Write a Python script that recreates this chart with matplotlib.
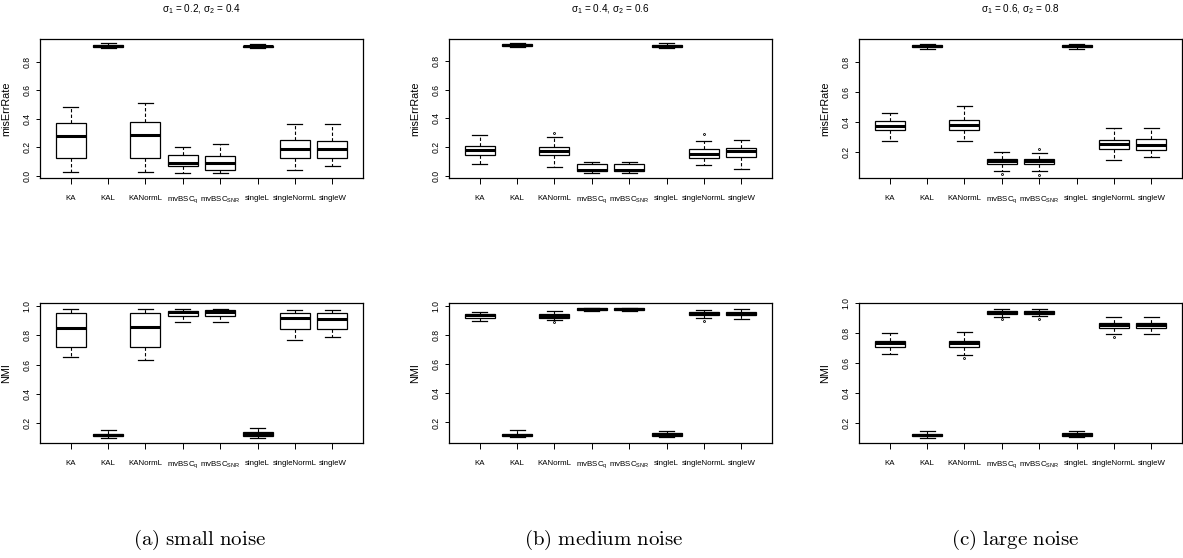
import numpy as np
import matplotlib.pyplot as plt

plt.rcParams['font.family'] = ['Liberation Sans Narrow', 'Liberation Sans', 'DejaVu Sans']

methods = ['KA', 'KAL', 'KANormL', r'mvBSC$_\mathregular{q}$', r'mvBSC$_\mathregular{SNR}$',
           'singleL', 'singleNormL', 'singleW']
titles = [r'σ$_\mathregular{1}$ = 0.2, σ$_\mathregular{2}$ = 0.4',
          r'σ$_\mathregular{1}$ = 0.4, σ$_\mathregular{2}$ = 0.6',
          r'σ$_\mathregular{1}$ = 0.6, σ$_\mathregular{2}$ = 0.8']
captions = ['(a) small noise', '(b) medium noise', '(c) large noise']

# per method: lower whisker, Q1, median, Q3, upper whisker
err_small = [[0.028, 0.122, 0.278, 0.372, 0.484],
             [0.893, 0.903, 0.911, 0.918, 0.928],
             [0.023, 0.124, 0.283, 0.377, 0.508],
             [0.021, 0.065, 0.089, 0.143, 0.204],
             [0.019, 0.037, 0.089, 0.136, 0.220],
             [0.893, 0.900, 0.907, 0.913, 0.922],
             [0.042, 0.124, 0.187, 0.250, 0.365],
             [0.068, 0.124, 0.189, 0.246, 0.365]]
err_small_out = [[], [], [], [], [], [], [], []]

err_medium = [[0.081, 0.147, 0.177, 0.207, 0.284],
              [0.896, 0.903, 0.910, 0.916, 0.925],
              [0.058, 0.142, 0.172, 0.198, 0.272],
              [0.016, 0.030, 0.042, 0.081, 0.098],
              [0.016, 0.030, 0.040, 0.081, 0.098],
              [0.893, 0.900, 0.906, 0.912, 0.922],
              [0.077, 0.123, 0.149, 0.188, 0.240],
              [0.044, 0.128, 0.172, 0.195, 0.251]]
err_medium_out = [[], [], [0.295], [], [], [], [0.290], []]

err_large = [[0.276, 0.350, 0.372, 0.404, 0.462],
             [0.889, 0.902, 0.908, 0.915, 0.923],
             [0.276, 0.346, 0.379, 0.413, 0.504],
             [0.075, 0.119, 0.140, 0.155, 0.200],
             [0.075, 0.119, 0.137, 0.153, 0.196],
             [0.887, 0.898, 0.905, 0.911, 0.918],
             [0.146, 0.220, 0.251, 0.281, 0.363],
             [0.166, 0.213, 0.245, 0.285, 0.363]]
err_large_out = [[], [], [], [0.054], [0.222, 0.050], [], [], []]

nmi_small = [[0.652, 0.723, 0.853, 0.956, 0.982],
             [0.097, 0.108, 0.117, 0.127, 0.154],
             [0.631, 0.723, 0.858, 0.956, 0.982],
             [0.890, 0.931, 0.959, 0.970, 0.982],
             [0.890, 0.931, 0.961, 0.977, 0.982],
             [0.099, 0.113, 0.127, 0.140, 0.166],
             [0.768, 0.844, 0.917, 0.956, 0.977],
             [0.787, 0.844, 0.913, 0.956, 0.972]]
nmi_small_out = [[], [], [], [], [], [], [], []]

nmi_medium = [[0.897, 0.920, 0.936, 0.947, 0.959],
              [0.097, 0.108, 0.117, 0.124, 0.145],
              [0.903, 0.920, 0.933, 0.945, 0.963],
              [0.963, 0.970, 0.979, 0.984, 0.986],
              [0.963, 0.970, 0.979, 0.984, 0.986],
              [0.099, 0.110, 0.120, 0.129, 0.143],
              [0.920, 0.938, 0.949, 0.959, 0.970],
              [0.913, 0.936, 0.947, 0.959, 0.979]]
nmi_medium_out = [[], [], [0.890], [], [], [], [0.900], []]

nmi_large = [[0.657, 0.706, 0.731, 0.748, 0.798],
             [0.099, 0.108, 0.115, 0.126, 0.144],
             [0.654, 0.704, 0.731, 0.748, 0.807],
             [0.910, 0.926, 0.937, 0.948, 0.963],
             [0.914, 0.926, 0.939, 0.948, 0.959],
             [0.101, 0.110, 0.119, 0.128, 0.144],
             [0.793, 0.832, 0.852, 0.869, 0.910],
             [0.795, 0.836, 0.852, 0.869, 0.910]]
nmi_large_out = [[], [], [0.634], [0.894], [0.894], [], [0.771], []]

err_ylims = [(-0.016, 0.959), (-0.016, 0.953), (0.027, 0.953)]
nmi_ylims = [(0.063, 1.022), (0.059, 1.021), (0.064, 1.0005)]
err_ticks = [[0, 0.2, 0.4, 0.6, 0.8], [0, 0.2, 0.4, 0.6, 0.8], [0.2, 0.4, 0.6, 0.8]]
nmi_ticks = [0.2, 0.4, 0.6, 0.8, 1.0]


def make_stats(rows, outs):
    stats = []
    for r, o in zip(rows, outs):
        stats.append(dict(whislo=r[0], q1=r[1], med=r[2], q3=r[3], whishi=r[4], fliers=o))
    return stats


def draw_panel(ax, rows, outs, ylim, yticks, ylabel):
    ax.bxp(make_stats(rows, outs), positions=np.arange(1, 9), widths=0.8, capwidths=0.4,
           patch_artist=True,
           boxprops=dict(facecolor='white', edgecolor='black', linewidth=0.9),
           medianprops=dict(color='black', linewidth=2.2, solid_capstyle='butt'),
           whiskerprops=dict(color='black', linewidth=0.8, linestyle=(0, (3, 2))),
           capprops=dict(color='black', linewidth=0.9),
           flierprops=dict(marker='o', markersize=1.4, markerfacecolor='none',
                           markeredgecolor='black', markeredgewidth=0.6))
    ax.set_xlim(0.18, 8.82)
    ax.set_ylim(*ylim)
    ax.set_xticks(np.arange(1, 9))
    ax.set_xticklabels(methods, fontsize=5.7)
    ax.set_yticks(yticks)
    ax.set_yticklabels(['%.1f' % t for t in yticks], fontsize=6.2, rotation=90, va='center',
                       family=['Liberation Sans', 'DejaVu Sans'])
    ax.tick_params(axis='x', length=4, width=0.7, pad=8)
    ax.tick_params(axis='y', length=3, width=0.7, pad=3)
    for s in ax.spines.values():
        s.set_linewidth(0.9)
    ax.set_ylabel(ylabel, fontsize=7.8, family=['Liberation Sans', 'DejaVu Sans'])
    ax.yaxis.set_label_coords(-0.088, 0.5)


fig = plt.figure(figsize=(11.83, 5.58), dpi=100)
W, H = 1183, 558
lefts = [40, 449, 859]
width = 323
err_data = [(err_small, err_small_out), (err_medium, err_medium_out), (err_large, err_large_out)]
nmi_data = [(nmi_small, nmi_small_out), (nmi_medium, nmi_medium_out), (nmi_large, nmi_large_out)]

for i in range(3):
    ax1 = fig.add_axes([lefts[i] / W, 1 - 178 / H, width / W, 139 / H])
    draw_panel(ax1, err_data[i][0], err_data[i][1], err_ylims[i], err_ticks[i], 'misErrRate')
    ax1.set_title(titles[i], fontsize=7.2, pad=19)

    ax2 = fig.add_axes([lefts[i] / W, 1 - 443 / H, width / W, 140 / H])
    draw_panel(ax2, nmi_data[i][0], nmi_data[i][1], nmi_ylims[i], nmi_ticks, 'NMI')

cap_x = [200, 604, 1015]
for i in range(3):
    txt = r'$\mathrm{' + captions[i].replace(' ', r'\ ') + '}$'
    fig.text(cap_x[i] / W, 1 - 540 / H, txt, math_fontfamily='cm', fontsize=15,
             ha='center', va='center')

fig.savefig('out.png', dpi=100)
